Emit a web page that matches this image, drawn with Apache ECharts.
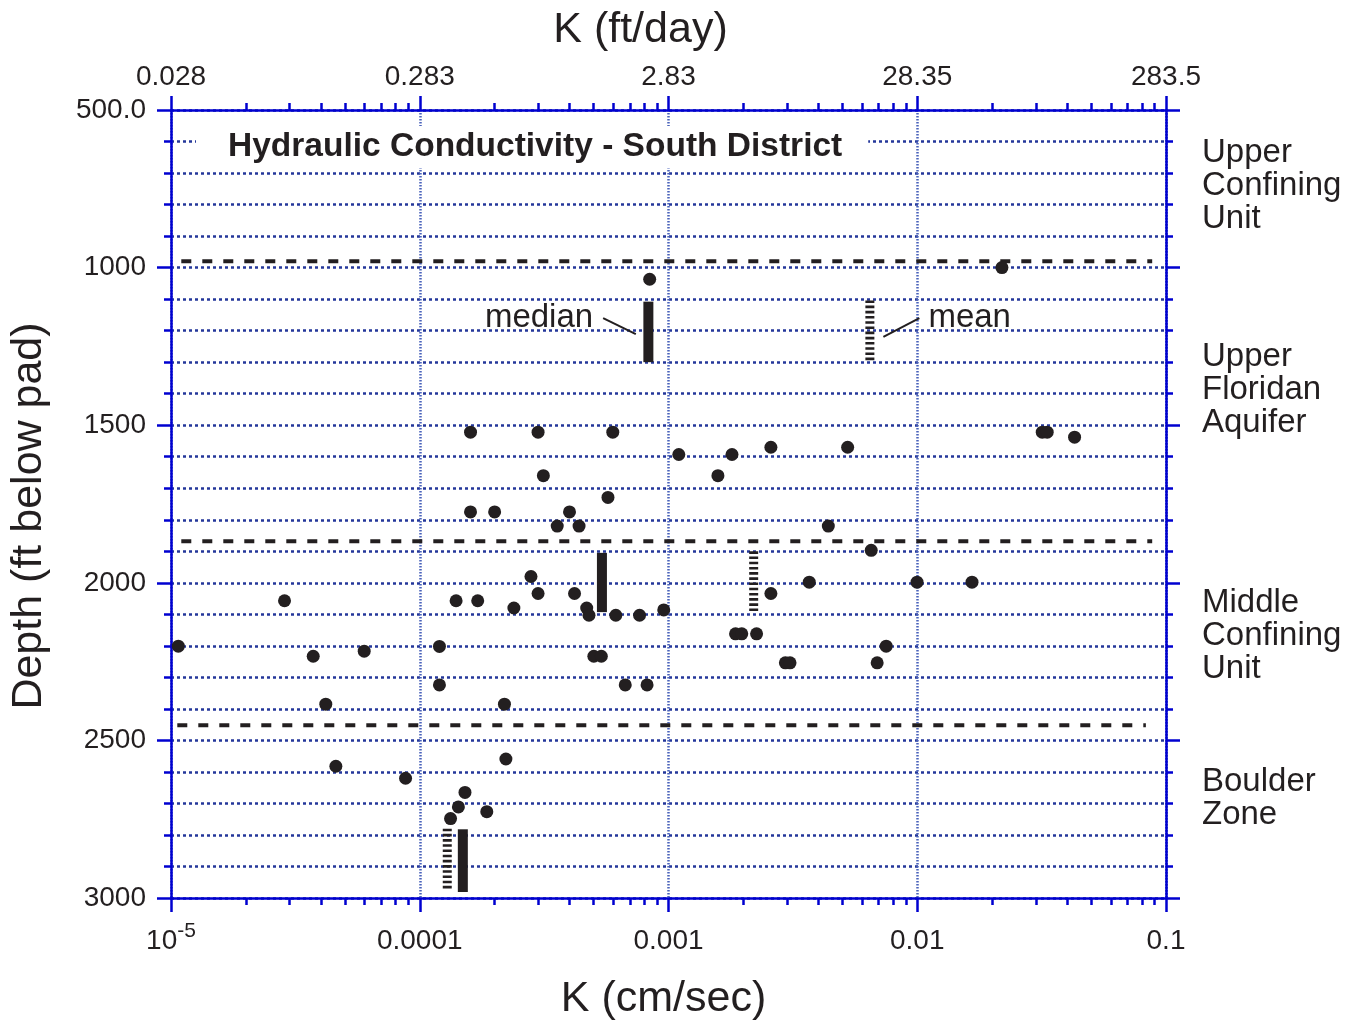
<!DOCTYPE html>
<html><head><meta charset="utf-8">
<script src="https://cdn.jsdelivr.net/npm/echarts@6/dist/echarts.min.js"></script>
<style>html,body{margin:0;padding:0;background:#fff}#c{width:1362px;height:1026px}</style>
</head><body><div id="c"></div>
<script>
// ---------------- data ----------------
const xTickValues   = [1e-5, 1e-4, 1e-3, 1e-2, 1e-1];
const xTickLabelsCm = ['10^-5', '0.0001', '0.001', '0.01', '0.1'];
const xTickLabelsFt = ['0.028', '0.283', '2.83', '28.35', '283.5'];
const yTickValues   = [500, 1000, 1500, 2000, 2500, 3000];
const yTickLabels   = ['500.0', '1000', '1500', '2000', '2500', '3000'];

// individual test results: hydraulic conductivity (cm/sec) and depth (ft below pad)
const kCmSec = [
  0.0219, 8.4e-4,
  1.60e-4, 2.99e-4, 5.97e-4, 1.10e-3, 1.80e-3, 1.58e-3, 2.58e-3, 5.25e-3,
  0.0318, 0.0333, 0.0429, 3.14e-4, 5.71e-4, 1.60e-4, 2.00e-4, 4.00e-4, 3.57e-4, 4.37e-4, 4.39e-3,
  6.53e-3, 2.80e-4, 3.68e-3, 9.98e-3, 0.0166,
  2.86e-5, 1.40e-4, 1.71e-4, 2.99e-4, 4.19e-4, 2.58e-3,
  2.39e-4, 4.69e-4, 9.57e-4, 4.79e-4, 6.14e-4, 7.65e-4,
  1.07e-5, 1.20e-4, 5.98e-5, 7.5e-3, 3.73e-5, 5.01e-4, 5.37e-4,
  1.86e-3, 1.97e-3, 2.26e-3, 2.95e-3, 3.08e-3, 6.9e-3,
  1.20e-4, 6.70e-4, 8.20e-4, 4.19e-5, 2.19e-4,
  4.60e-5, 8.77e-5, 2.22e-4, 1.52e-4, 1.43e-4, 1.33e-4, 1.86e-4
];
const depthFt = [
  1000, 1037,
  1522, 1522, 1522, 1593, 1593, 1660, 1570, 1570,
  1522, 1522, 1538, 1660, 1729, 1775, 1775, 1775, 1820, 1820, 1820,
  1897, 1980, 1998, 1998, 1998,
  2057, 2057, 2057, 2034, 2034, 2034,
  2080, 2080, 2086, 2103, 2103, 2103,
  2201, 2202, 2217, 2201, 2233, 2233, 2233,
  2162, 2162, 2162, 2254, 2254, 2254,
  2324, 2324, 2324, 2385, 2385,
  2582, 2620, 2559, 2665, 2711, 2748, 2726
];

// hydrogeologic unit boundaries (dashed lines)
const boundaryDepths = [980, 1868, 2452];
const boundaryKStart = [1.1e-5, 1.1e-5, 1.06e-5];
const boundaryKEnd   = [0.088, 0.088, 0.083];

// unit statistics (vertical bars)
const medianK      = [8.3e-4, 5.4e-4, 1.49e-4];
const medianTop    = [1108, 1905, 2782];
const medianBottom = [1300, 2093, 2981];
const meanK        = [6.45e-3, 2.2e-3, 1.29e-4];
const meanTop      = [1104, 1900, 2780];
const meanBottom   = [1296, 2092, 2976];

// annotation leaders
const medianLeader = [[5.46e-4, 1160], [7.39e-4, 1211]];
const meanLeader   = [[7.31e-3, 1220], [0.0102, 1160]];

// unit names on the right, with depth of first text line
const unitLabels = ['Upper\nConfining\nUnit', 'Upper\nFloridan\nAquifer', 'Middle\nConfining\nUnit', 'Boulder\nZone'];
const unitLabelDepths = [635, 1284, 2065, 2631];

const chartTitle = 'Hydraulic Conductivity - South District';

// ---------------- chart ----------------
const FONT = "'Liberation Sans', Arial, sans-serif";
const INK = '#231f20';
const BLUE = '#0000d0';
const GRID_H = '#24379a';
const GRID_V = '#4a63bb';

const minorVals = [];
for (let e = -5; e < -1; e++) for (let m = 2; m <= 9; m++) minorVals.push(+(m * Math.pow(10, e)).toPrecision(3));

function decIdx(v) { return Math.round(Math.log10(v)) + 5; }

const baseX = { type: 'log', logBase: 10, min: 1e-5, max: 0.1, gridIndex: 0 };
const baseY = { type: 'value', inverse: true, min: 500, max: 3000, interval: 100, gridIndex: 0 };
const lineStyleAxis = { color: BLUE, width: 2.5 };

const scatterData = kCmSec.map((k, i) => [k, depthFt[i]]);

const series = [];
boundaryDepths.forEach((d, i) => {
  series.push({
    type: 'line', silent: true, symbol: 'none', animation: false, z: 3,
    data: [[boundaryKStart[i], d], [boundaryKEnd[i], d]],
    lineStyle: { color: INK, width: 4, type: [10, 11], opacity: 1 }
  });
});
medianK.forEach((k, i) => {
  series.push({
    type: 'line', silent: true, symbol: 'none', animation: false, z: 4,
    data: [[k, medianTop[i]], [k, medianBottom[i]]],
    lineStyle: { color: INK, width: 10, cap: 'butt', opacity: 1 }
  });
});
meanK.forEach((k, i) => {
  series.push({
    type: 'line', silent: true, symbol: 'none', animation: false, z: 4,
    data: [[k, meanTop[i]], [k, meanBottom[i]]],
    lineStyle: { color: INK, width: 9, cap: 'butt', type: [2.6, 2.6], opacity: 1 }
  });
});
[medianLeader, meanLeader].forEach(ld => {
  series.push({
    type: 'line', silent: true, symbol: 'none', animation: false, z: 4,
    data: ld, lineStyle: { color: INK, width: 2, opacity: 1 }
  });
});
series.push({
  type: 'scatter', silent: true, animation: false, z: 5, symbolSize: 0,
  itemStyle: { opacity: 1 },
  data: [
    { value: medianLeader[0], label: { show: true, position: 'left', distance: 10, formatter: 'median' } },
    { value: meanLeader[1], label: { show: true, position: 'right', distance: 9, formatter: 'mean' } }
  ],
  label: { color: INK, fontFamily: FONT, fontSize: 33, opacity: 1 }
});
series.push({
  type: 'scatter', animation: false, z: 6, symbol: 'circle', symbolSize: 13,
  itemStyle: { color: INK, opacity: 1 }, data: scatterData
});

const option = {
  backgroundColor: '#fff',
  animation: false,
  grid: { left: 170, top: 110, width: 996, height: 790, containLabel: false },
  xAxis: [
    Object.assign({}, baseX, {
      position: 'bottom',
      name: 'K (cm/sec)', nameLocation: 'middle', nameGap: 80,
      nameTextStyle: { fontFamily: FONT, fontSize: 43, color: INK, padding: [0, 10, 0, 0] },
      axisLine: { show: true, lineStyle: lineStyleAxis },
      axisTick: { show: true, length: 14, lineStyle: lineStyleAxis },
      axisLabel: {
        margin: 23, color: INK, fontFamily: FONT,
        formatter: v => {
          const s = xTickLabelsCm[decIdx(v)];
          if (s.indexOf('^') >= 0) { const p = s.split('^'); return '{b|' + p[0] + '}{s|' + p[1] + '}'; }
          return '{b|' + s + '}';
        },
        rich: {
          b: { fontSize: 28, lineHeight: 40, fontFamily: FONT, color: INK },
          s: { fontSize: 21, lineHeight: 22, verticalAlign: 'top', fontFamily: FONT, color: INK }
        }
      },
      splitLine: { show: true, lineStyle: { color: GRID_V, width: 2.5, type: [1.5, 1.5] } }
    }),
    Object.assign({}, baseX, {
      position: 'bottom',
      axisLine: { show: false }, axisLabel: { show: false }, splitLine: { show: false },
      axisTick: { show: true, length: 7, customValues: minorVals, lineStyle: lineStyleAxis }
    }),
    Object.assign({}, baseX, {
      position: 'top',
      name: 'K (ft/day)', nameLocation: 'middle', nameGap: 58,
      nameTextStyle: { fontFamily: FONT, fontSize: 43, color: INK, padding: [0, 56, 0, 0] },
      axisLine: { show: true, lineStyle: lineStyleAxis },
      axisTick: { show: true, length: 14, lineStyle: lineStyleAxis },
      axisLabel: { margin: 19, color: INK, fontFamily: FONT, fontSize: 28, formatter: v => xTickLabelsFt[decIdx(v)] },
      splitLine: { show: false }
    }),
    Object.assign({}, baseX, {
      position: 'top',
      axisLine: { show: false }, axisLabel: { show: false }, splitLine: { show: false },
      axisTick: { show: true, length: 7, customValues: minorVals, lineStyle: lineStyleAxis }
    })
  ],
  yAxis: [
    Object.assign({}, baseY, {
      position: 'left',
      name: 'Depth (ft below pad)', nameLocation: 'middle', nameGap: 120, nameRotate: 90,
      nameTextStyle: { fontFamily: FONT, fontSize: 43, color: INK, padding: [0, 24, 0, 0] },
      axisLine: { show: true, lineStyle: lineStyleAxis },
      axisTick: { show: true, length: 7, lineStyle: lineStyleAxis },
      axisLabel: {
        margin: 25, color: INK, fontFamily: FONT, fontSize: 28,
        customValues: yTickValues,
        formatter: v => { const i = yTickValues.indexOf(Math.round(v)); return i >= 0 ? yTickLabels[i] : ''; }
      },
      splitLine: { show: true, lineStyle: { color: GRID_H, width: 2.5, type: [3, 3] } }
    }),
    Object.assign({}, baseY, {
      position: 'left',
      axisLine: { show: false }, axisLabel: { show: false }, splitLine: { show: false },
      axisTick: { show: true, length: 14, customValues: yTickValues, lineStyle: lineStyleAxis }
    }),
    Object.assign({}, baseY, {
      position: 'right',
      axisLine: { show: true, lineStyle: lineStyleAxis }, axisLabel: { show: false }, splitLine: { show: false },
      axisTick: { show: true, length: 7, lineStyle: lineStyleAxis }
    }),
    Object.assign({}, baseY, {
      position: 'right',
      axisLine: { show: false }, axisLabel: { show: false }, splitLine: { show: false },
      axisTick: { show: true, length: 14, customValues: yTickValues, lineStyle: lineStyleAxis }
    })
  ],
  series: series
};

const chart = echarts.init(document.getElementById('c'), null, { renderer: 'canvas' });
chart.setOption(option);

// annotations: title box and unit names on the right
const graphics = [{
  type: 'text', left: 196, top: 126, z: 100,
  style: {
    text: chartTitle, fill: INK, font: "bold 33.5px 'Liberation Sans', Arial, sans-serif",
    backgroundColor: '#fff', padding: [4, 26, 4, 32]
  }
}];
unitLabels.forEach((t, i) => {
  const y = chart.convertToPixel({ yAxisIndex: 0 }, unitLabelDepths[i]);
  graphics.push({
    type: 'text', left: 1202, top: y - 16.5, z: 100,
    style: { text: t, fill: INK, font: "33px 'Liberation Sans', Arial, sans-serif", lineHeight: 33 }
  });
});
chart.setOption({ graphic: graphics });
</script>
</body></html>
